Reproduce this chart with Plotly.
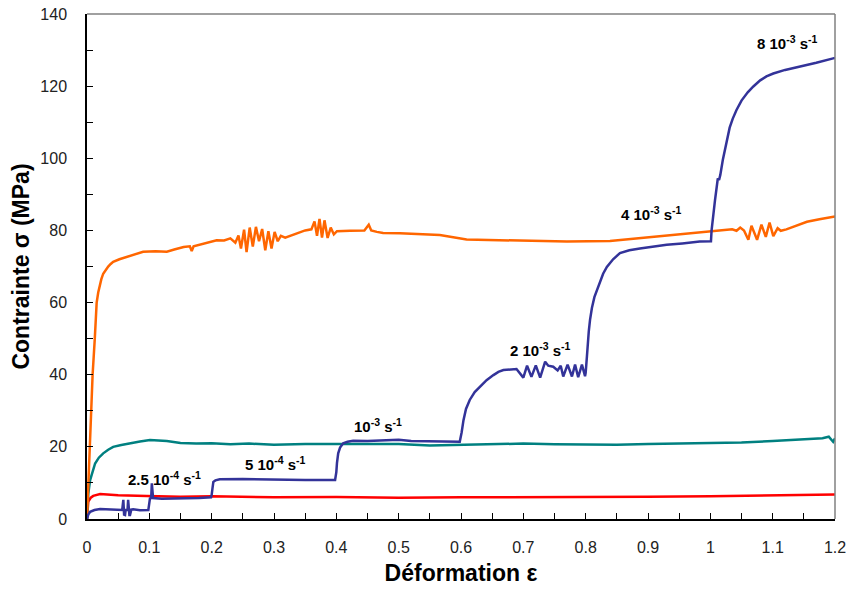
import plotly.graph_objects as go

orange_x = [0, 0.004, 0.009, 0.0125, 0.0155, 0.018, 0.02, 0.023, 0.026, 0.03, 0.034, 0.038, 0.042, 0.052, 0.064, 0.075,
            0.09, 0.11, 0.128, 0.14, 0.155,
            0.165, 0.168, 0.171, 0.185, 0.208, 0.22, 0.23, 0.238, 0.243, 0.247, 0.252, 0.256, 0.261, 0.266, 0.271,
            0.276, 0.281, 0.286, 0.291, 0.296, 0.301, 0.306, 0.311, 0.318, 0.33, 0.35, 0.36, 0.365, 0.369, 0.373,
            0.377, 0.381, 0.386, 0.391, 0.396, 0.401, 0.422, 0.445, 0.452, 0.456, 0.465, 0.475, 0.502, 0.53, 0.566,
            0.609, 0.65, 0.689, 0.77, 0.839, 0.903, 0.95, 0.983, 1.004, 1.02, 1.035, 1.042, 1.048, 1.054, 1.061,
            1.066, 1.075, 1.082, 1.089, 1.095, 1.101, 1.108, 1.113, 1.122, 1.14, 1.155, 1.175, 1.197, 1.2]
orange_y = [0, 20, 40, 50, 60, 62.8, 64.5, 66.5, 68, 69.2, 70, 70.7, 71.3, 72, 72.7, 73.3,
            74.1, 74.2, 74.1, 74.7, 75.4,
            75.6, 74.3, 75.6, 76.2, 77.3, 77.2, 77.8, 76.6, 78.6, 75.0, 80.2, 74.0, 80.8, 75.5, 81.0,
            77.0, 80.4, 74.5, 79.8, 75.0, 79.6, 77.0, 78.5, 78.0, 78.8, 80.0, 80.3, 82.5, 78.5, 83.2,
            78.0, 82.8, 77.9, 80.8, 78.9, 79.8, 79.9, 80.0, 81.6, 80.0, 79.6, 79.3, 79.2, 79.0, 78.7,
            77.5, 77.3, 77.1, 76.9, 77.1, 78.1, 78.8, 79.4, 79.7, 80.0, 80.3, 79.9, 80.8, 80.0, 77.4,
            81.3, 77.4, 81.6, 78.2, 82.2, 78.4, 80.6, 79.9, 80.3, 81.5, 82.4, 83.1, 83.8, 83.9]

teal_x = [0, 0.0005, 0.002, 0.005, 0.009, 0.013, 0.019, 0.026, 0.034, 0.042, 0.055, 0.069, 0.085, 0.101, 0.115,
          0.128, 0.15, 0.175, 0.2, 0.23, 0.26, 0.3, 0.35, 0.4, 0.45, 0.5, 0.55, 0.6, 0.65, 0.7, 0.75, 0.8, 0.85,
          0.9, 0.95, 1.0, 1.05, 1.1, 1.15, 1.18, 1.19, 1.194, 1.197, 1.2]
teal_y = [0, 3.4, 7, 10.8, 13.5, 15.4, 17, 18.2, 19.2, 20, 20.5, 21, 21.5, 21.9, 21.8,
          21.6, 21.1, 20.9, 21.0, 20.7, 20.9, 20.6, 20.8, 20.8, 21.0, 20.8, 20.4, 20.6, 20.8, 20.9, 20.7, 20.6, 20.6,
          20.8, 20.9, 21.0, 21.2, 21.6, 22.0, 22.4, 22.8, 22.1, 21.4, 22.4]

red_x = [0, 0.002, 0.006, 0.010, 0.021, 0.05, 0.096, 0.15, 0.2, 0.3, 0.4, 0.5, 0.6, 0.7, 0.8, 0.9, 1.0, 1.1, 1.2]
red_y = [0, 4.8, 5.9, 6.4, 6.9, 6.6, 6.4, 6.2, 6.3, 6.0, 6.1, 5.9, 6.0, 6.0, 6.1, 6.2, 6.3, 6.6, 6.8]

blue_x = [0, 0.002, 0.005, 0.012, 0.021, 0.035, 0.053, 0.0565, 0.0583, 0.0595, 0.061, 0.062, 0.065, 0.066, 0.068,
          0.069, 0.071, 0.074, 0.085, 0.095, 0.0984, 0.101, 0.103, 0.104, 0.106, 0.12, 0.15, 0.18, 0.199, 0.200,
          0.2013, 0.2027, 0.206, 0.213, 0.25, 0.3, 0.35, 0.398, 0.400, 0.401, 0.403, 0.406, 0.411, 0.418, 0.427,
          0.45, 0.48, 0.5, 0.52, 0.55, 0.58, 0.598,
          0.601, 0.604, 0.608, 0.614, 0.622, 0.631, 0.641, 0.652, 0.66, 0.668, 0.689, 0.700, 0.706, 0.713, 0.720,
          0.727, 0.735, 0.740, 0.748, 0.755,
          0.760, 0.764, 0.771, 0.778, 0.783, 0.788, 0.794, 0.799, 0.800, 0.802, 0.803, 0.805, 0.807, 0.810, 0.814,
          0.818, 0.822, 0.828, 0.834, 0.844, 0.855, 0.87, 0.887, 0.905, 0.930, 0.955,
          0.983, 1.001, 1.002, 1.0075, 1.012, 1.014, 1.016, 1.020, 1.026, 1.031, 1.036, 1.042, 1.05, 1.06, 1.069,
          1.08, 1.09, 1.101, 1.12, 1.144, 1.17, 1.197, 1.2]
blue_y = [0, 1.2, 2.0, 2.5, 2.8, 2.6, 2.5, 2.5, 5.3, 1.2, 1.1, 2.5, 2.5, 5.3, 1.1,
          1.1, 2.6, 2.7, 2.4, 2.4, 2.5, 5.7, 5.8, 9.9, 5.8, 5.6, 5.6, 5.8, 6.0, 6.7,
          8.5, 10.3, 10.7, 11.0, 11.1, 10.9, 10.8, 10.8, 13, 15.5, 18.2, 19.8, 21.0, 21.4, 21.7,
          21.6, 21.8, 22.0, 21.6, 21.5, 21.4, 21.4,
          24, 27.4, 30.5, 33, 35.2, 36.7, 38.5, 39.9, 40.8, 41.3, 41.6, 39.2, 42.5, 39.4, 42.6,
          39.2, 43.6, 42.5, 42.2, 41.2,
          42.5, 39.5, 42.8, 39.5, 42.8, 39.3, 42.8, 39.6, 40.5, 45, 48, 52, 55.2, 58.5, 61.5,
          63.5, 65.5, 68, 69.9, 72, 73.7, 74.5, 75.0, 75.5, 76.0, 76.4,
          76.9, 77.0, 80, 88.4, 94.4, 94.0, 95.4, 99.5, 105, 108.5, 111, 113.4, 116, 118.3, 119.9,
          121.6, 122.7, 123.5, 124.5, 125.4, 126.5, 127.7, 127.8]

label_text = ["2.5 10<sup>-4</sup> s<sup>-1</sup>", "5 10<sup>-4</sup> s<sup>-1</sup>", "10<sup>-3</sup> s<sup>-1</sup>",
              "2 10<sup>-3</sup> s<sup>-1</sup>", "4 10<sup>-3</sup> s<sup>-1</sup>", "8 10<sup>-3</sup> s<sup>-1</sup>"]
label_x = [0.125, 0.302, 0.467, 0.727, 0.905, 1.123]
label_y = [11.1, 15.5, 26.0, 46.9, 84.6, 132.0]

fig = go.Figure()
for xs, ys, col in [(red_x, red_y, "#FF0000"), (teal_x, teal_y, "#008080"),
                    (orange_x, orange_y, "#FF6600"), (blue_x, blue_y, "#333399")]:
    fig.add_trace(go.Scatter(x=xs, y=ys, mode="lines", line=dict(color=col, width=2.5), showlegend=False))

for t, x, y in zip(label_text, label_x, label_y):
    fig.add_annotation(x=x, y=y, text="<b>" + t + "</b>", showarrow=False,
                       font=dict(family="Arial, 'Liberation Sans'", size=15, color="black"))

fig.add_shape(type="line", xref="paper", yref="paper", x0=0, x1=1, y0=1, y1=1, line=dict(color="#808080", width=1.5))
fig.add_shape(type="line", xref="paper", yref="paper", x0=1, x1=1, y0=0, y1=1, line=dict(color="#808080", width=1.5))

fig.update_layout(
    width=851, height=589,
    margin=dict(l=87, r=16, t=14, b=70),
    plot_bgcolor="white", paper_bgcolor="white",
    font=dict(family="Arial, 'Liberation Sans'", size=16, color="#222222"),
    xaxis=dict(range=[0, 1.2], dtick=0.1, tick0=0, ticks="inside", ticklen=6, tickcolor="black",
               showline=True, linecolor="black", linewidth=1.5, showgrid=False, zeroline=False,
               automargin=False, ticklabelstandoff=13, ticklabeloverflow="allow",
               minor=dict(ticks="inside", dtick=0.05, ticklen=6, tickcolor="black"),
               title=dict(text="<b>Déformation ε</b>", font=dict(size=23, color="black"), standoff=10)),
    yaxis=dict(range=[0, 140], dtick=20, tick0=0, ticks="inside", ticklen=6, tickcolor="black",
               showline=True, linecolor="black", linewidth=1.5, showgrid=False, zeroline=False,
               automargin=False, ticklabelstandoff=15, ticklabeloverflow="allow",
               minor=dict(ticks="inside", dtick=10, ticklen=6, tickcolor="black"),
               title=dict(text="<b>Contrainte σ (MPa)</b>", font=dict(size=23, color="black"), standoff=4)),
)

fig.write_html("out.html", config={"displayModeBar": False},
               post_script="document.body.style.margin='0';document.body.style.overflow='hidden';")
